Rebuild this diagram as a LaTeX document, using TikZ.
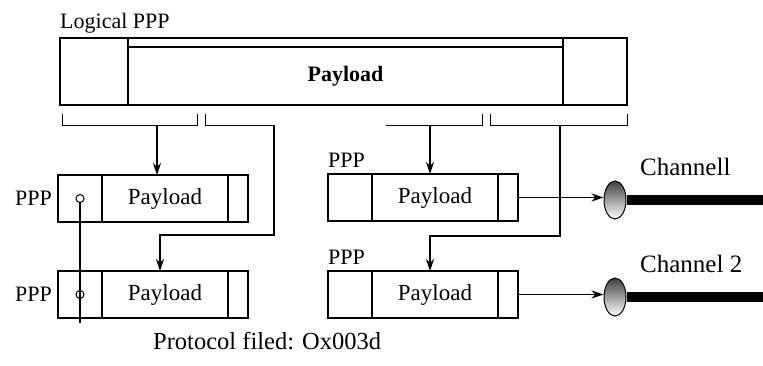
\documentclass[tikz,border=0pt]{standalone}
\usepackage{fontspec}
\setmainfont{Liberation Serif}
\usepackage{tikz}
\usetikzlibrary{positioning, arrows.meta, shapes.geometric}

\begin{document}
\begin{tikzpicture}[
  x=1pt, y=-1pt,
  cell/.style={draw, line width=1.1pt, inner sep=0pt, outer sep=0pt,
               anchor=north west, minimum height=47pt,
               font=\fontsize{23}{25}\selectfont},
  lbl/.style={inner sep=0pt, font=\fontsize{22}{24}\selectfont},
  brk/.style={line width=1pt},
  arr/.style={->, line width=1.2pt},
  plug/.style={ellipse, draw, line width=1pt, inner sep=0pt,
               minimum width=22pt, minimum height=38pt,
               top color=black!75, bottom color=white},
  >={Stealth[length=12pt, width=8pt]}
]
  \useasboundingbox (0,0) rectangle (763,365);

  % logical PPP frame
  \node[lbl, anchor=base west] (tlog) at (60,28) {Logical PPP};
  \node[cell, minimum width=68pt, minimum height=67pt] (lhdr) at (60,38) {};
  \node[cell, minimum width=435pt, minimum height=58pt,
        font=\bfseries\fontsize{22}{24}\selectfont] (lpay) at (128,47) {Payload};
  \node[cell, minimum width=64pt, minimum height=67pt] (ltrl) at (563,38) {};
  \draw[line width=1.1pt] (lhdr.north east) -- (ltrl.north west);

  % fragment brackets
  \draw[brk] (62,114) |- (197,125) -- (197,114);
  \draw[brk] (205,114) |- (274,125);
  \draw[brk] (386,125) -| (482,114);
  \draw[brk] (490,114) |- (627,125) -- (627,114);

  % member PPP frames
  \foreach \f/\x/\y in {a/58/175, b/58/271, c/328/174, d/328/271} {
    \node[cell, minimum width=44pt] (h\f) at (\x,\y) {};
    \node[cell, minimum width=126pt] (p\f) at (h\f.north east) {Payload};
    \node[cell, minimum width=20pt] (t\f) at (p\f.north east) {};
  }
  \node[lbl, left=6pt of ha] (la) {PPP};
  \node[lbl, left=6pt of hb] (lb) {PPP};
  \node[lbl, anchor=base west] (lc) at (328,167) {PPP};
  \node[lbl, anchor=base west] (ld) at (328,264) {PPP};

  % protocol field marks
  \node[circle, draw, line width=1pt, minimum size=8pt, inner sep=0pt] (ca) at (ha.center) {};
  \node[circle, draw, line width=1pt, minimum size=8pt, inner sep=0pt] (cb) at (hb.center) {};
  \coordinate (tail) at (80,323);
  \draw[line width=1.1pt] (ca.south) -- (tail);
  \node[lbl, anchor=base west, font=\fontsize{24.5}{26}\selectfont] (proto)
    at (153,349) {Protocol filed: Ox003d};

  % fragment arrows
  \coordinate (s1) at (157,125);
  \coordinate (s2) at (274,125);
  \coordinate (k2) at (160,235);
  \coordinate (s3) at (430,125);
  \coordinate (s4) at (560,125);
  \coordinate (k4) at (430,236);
  \draw[arr] (s1) -- (s1 |- pa.north);
  \draw[arr] (s2) |- (k2) -- (k2 |- pb.north);
  \draw[arr] (s3) -- (s3 |- pc.north);
  \draw[arr] (s4) |- (k4) -- (k4 |- pd.north);

  % channels
  \node[plug] (e1) at (615,200) {};
  \node[plug] (e2) at (615,297) {};
  \coordinate (r1) at (763,200);
  \coordinate (r2) at (763,297);
  \draw[line width=10pt] (e1.east) -- (r1);
  \draw[line width=10pt] (e2.east) -- (r2);
  \draw[arr] (tc.east) -- (tc.east -| e1.west);
  \draw[arr] (td.east) -- (td.east -| e2.west);
  \node[lbl, anchor=base west, font=\fontsize{25}{27}\selectfont] (ch1)
    at (640,175) {Channell};
  \node[lbl, anchor=base west, font=\fontsize{25}{27}\selectfont] (ch2)
    at (640,272) {Channel 2};
\end{tikzpicture}
\end{document}
